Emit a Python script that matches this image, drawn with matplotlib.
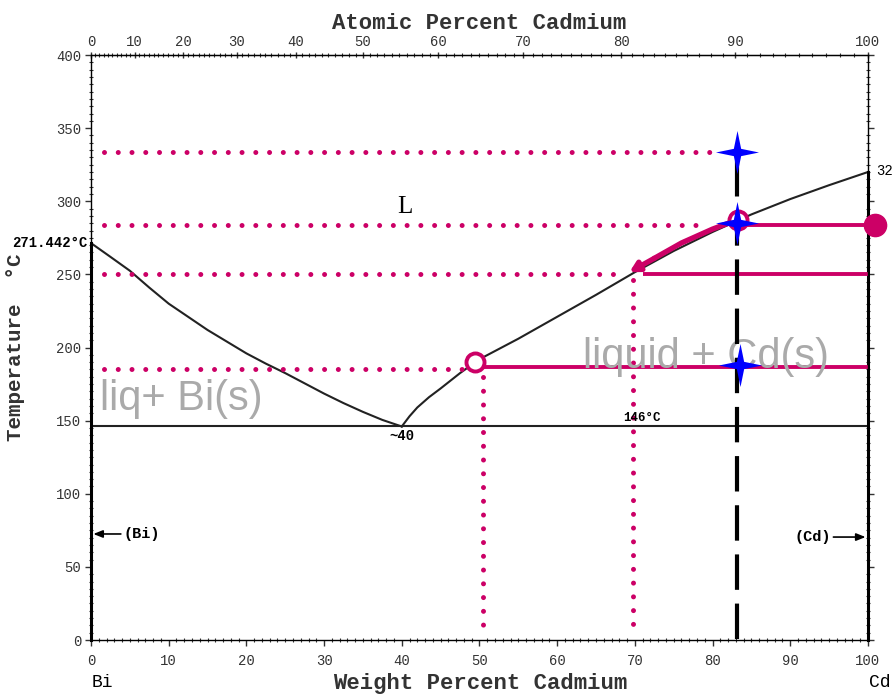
import matplotlib.pyplot as plt
import numpy as np
from matplotlib.path import Path
from matplotlib.ticker import MultipleLocator

# phase boundaries (weight % Cd, temperature C)
wt_left = [0, 2.5, 5, 7.5, 10, 12.5, 15, 17.5, 20, 22.5, 25, 27.5, 30, 32.5, 35, 37.5, 40]
T_left = [271.4, 262, 252.5, 241, 230, 221, 212, 204, 196, 189, 182.5, 175.5, 168.5,
          162, 156, 150.5, 146]
wt_right = [40, 41, 42, 43.5, 45, 47.5, 50, 52.5, 55, 57.5, 60, 65, 70, 75, 80, 85, 90, 95, 100]
T_right = [146, 153, 159, 166, 172, 182.5, 192, 199, 206, 213.5, 221, 236, 251.5, 266,
           279, 291, 301.5, 311, 320]
T_eutectic = 146
T_bi_melt = 271.442
T_cd_melt = 320

# overlay: dotted guide lines
guide_T = [334, 284, 250, 185]
guide_wt_end = [80, 78, 67.2, 47.7]
guide_wt_start = 1.7
vguide_wt = [50.5, 69.7]
vguide_T_top = [180, 246]
vguide_T_bottom = [6, 2]

# overlay: tie lines (T, wt start, wt end)
tie_T = [284, 250.3, 187]
tie_wt_start = [83.3, 71, 50]
tie_wt_end = [100.9, 100, 100]

# overlay: arrow along liquidus
arrow_wt = [83.3, 80, 76, 72.5, 69.3]
arrow_T = [287.5, 281, 271.5, 261, 251.5]

# overlay: composition line and markers
comp_wt = 83.1
comp_T = [1, 335]
star_wt = [83.1, 83.1, 83.5]
star_T = [334, 285, 188]
open_wt = [49.4, 83.3]
open_T = [190.3, 287]
filled_wt = [100.9]
filled_T = [284]

x_ticks = list(range(0, 101, 10))
y_ticks = list(range(0, 401, 50))
at_ticks = list(range(0, 101, 10))

PINK = '#cc0066'
GRAY = '#aaaaaa'
MONO = 'Liberation Mono'
M_BI, M_CD = 208.98, 112.41


def wt_to_at(w):
    w = np.clip(np.asarray(w, dtype=float), 0, 100)
    a = w / M_CD
    b = (100 - w) / M_BI
    return 100 * a / np.where(a + b == 0, 1, a + b)


def at_to_wt(x):
    x = np.clip(np.asarray(x, dtype=float), 0, 100)
    a = x * M_CD
    b = (100 - x) * M_BI
    return 100 * a / np.where(a + b == 0, 1, a + b)


def star4(inner=0.24):
    verts = []
    for k in range(8):
        ang = np.pi / 2 + k * np.pi / 4
        r = 1.0 if k % 2 == 0 else inner
        verts.append((r * np.cos(ang), r * np.sin(ang)))
    verts.append(verts[0])
    codes = [Path.MOVETO] + [Path.LINETO] * 7 + [Path.CLOSEPOLY]
    return Path(verts, codes)


fig = plt.figure(figsize=(8.93, 6.94), dpi=100)
ax = fig.add_axes([0.1019, 0.0778, 0.870, 0.8429])
ax.set_xlim(0, 100)
ax.set_ylim(0, 400)

# phase diagram lines
lw = 1.5
ax.plot(wt_left, T_left, color='#222222', lw=lw)
ax.plot(wt_right, T_right, color='#222222', lw=lw)
ax.plot([0, 100], [T_eutectic, T_eutectic], color='#222222', lw=lw)
ax.plot([0, 0], [0, T_bi_melt], color='black', lw=2.2, clip_on=False)
ax.plot([100, 100], [0, T_cd_melt], color='black', lw=2.2, clip_on=False)

# dotted guides
dot_kw = dict(color=PINK, lw=3.6, linestyle=(0, (0.001, 2.75)), dash_capstyle='round')
for T, we in zip(guide_T, guide_wt_end):
    ax.plot([guide_wt_start, we], [T, T], **dot_kw)
for w, t1, t0 in zip(vguide_wt, vguide_T_top, vguide_T_bottom):
    ax.plot([w, w], [t1, t0], **dot_kw)

# tie lines
for T, ws, we in zip(tie_T, tie_wt_start, tie_wt_end):
    ax.plot([ws, we], [T, T], color=PINK, lw=2.8, solid_capstyle='butt', clip_on=False)

# arrow along liquidus
ax.plot(arrow_wt[:-1], arrow_T[:-1], color=PINK, lw=3.8, solid_capstyle='round')
ax.annotate('', xy=(arrow_wt[-1], arrow_T[-1]), xytext=(arrow_wt[-2], arrow_T[-2]),
            arrowprops=dict(arrowstyle='-|>,head_length=0.55,head_width=0.3',
                            color=PINK, lw=3.8, shrinkA=0, shrinkB=0))

# composition line
ax.plot([comp_wt, comp_wt], comp_T, color='black', lw=3,
        linestyle=(0, (8.5, 3.3)), zorder=4)

ax.plot(open_wt, open_T, 'o', ms=13, mfc='white', mec=PINK, mew=2.8, zorder=5)
ax.plot(filled_wt, filled_T, 'o', ms=16, color=PINK, zorder=5, clip_on=False)
ax.plot(star_wt, star_T, linestyle='none', marker=star4(), ms=31,
        color='#0000ff', mec='none', zorder=6)

# region labels
ax.text(1.2, 157.5, 'liq+ Bi(s)', color=GRAY, fontsize=30,
        family='Liberation Sans', va='baseline')
ax.text(63.3, 186, 'liquid + Cd(s)', color=GRAY, fontsize=30,
        family='Liberation Sans', va='baseline')
ax.text(40.4, 296, 'L', fontsize=18, family='Liberation Serif',
        ha='center', va='center')

# diagram annotations
ax.text(-0.4, 271.5, '271.442°C', fontsize=10, family=MONO, weight='bold',
        ha='right', va='center')
ax.text(101, 321, '321°C', fontsize=10, family=MONO, ha='left', va='center')
ax.text(40, 139.5, '~40', fontsize=10, family=MONO, weight='bold',
        ha='center', va='center')
ax.text(70.9, 151.5, '146°C', fontsize=9, family=MONO, weight='bold',
        ha='center', va='center')
ax.annotate('(Bi)', xy=(0.3, 72.5), xytext=(4.2, 72.5), fontsize=11,
            family=MONO, weight='bold', va='center', ha='left',
            arrowprops=dict(arrowstyle='-|>,head_length=0.5,head_width=0.2',
                            color='black', lw=1.2, shrinkA=0, shrinkB=0))
ax.annotate('(Cd)', xy=(99.7, 70.4), xytext=(95.2, 70.4), fontsize=11,
            family=MONO, weight='bold', va='center', ha='right',
            arrowprops=dict(arrowstyle='-|>,head_length=0.5,head_width=0.2',
                            color='black', lw=1.2, shrinkA=0, shrinkB=0))
ax.text(1.5, -29, 'Bi', fontsize=13, family=MONO, ha='center', va='center',
        clip_on=False)
ax.text(101.5, -29, 'Cd', fontsize=13, family=MONO, ha='center', va='center',
        clip_on=False)

# axes styling
for s in ax.spines.values():
    s.set_linewidth(1.0)
    s.set_linestyle((0, (2, 1)))
ax.set_xticks(x_ticks)
ax.set_yticks(y_ticks)
ax.xaxis.set_minor_locator(MultipleLocator(1))
ax.yaxis.set_minor_locator(MultipleLocator(5))
ax.tick_params(which='major', direction='out', length=4, width=1, colors='#333333',
               labelsize=10, pad=6)
ax.tick_params(which='minor', direction='inout', length=3, width=0.8, color='#333333')
ax.tick_params(axis='y', which='both', right=True)
ax.tick_params(axis='y', which='major', pad=3)
for lab in ax.get_xticklabels() + ax.get_yticklabels():
    lab.set_family(MONO)

ax.set_xlabel('Weight Percent Cadmium', fontsize=16, family=MONO, weight='bold',
              color='#333333')
ax.xaxis.set_label_coords(0.501, -0.056)
ax.set_ylabel('Temperature  °C', fontsize=15, family=MONO, weight='bold',
              color='#333333')
ax.yaxis.set_label_coords(-0.085, 0.5)

secax = ax.secondary_xaxis('top', functions=(wt_to_at, at_to_wt))
secax.set_xticks(at_ticks)
secax.xaxis.set_minor_locator(MultipleLocator(1))
secax.tick_params(which='major', direction='inout', length=5, width=1,
                  colors='#333333', labelsize=10, pad=2)
secax.tick_params(which='minor', direction='inout', length=3, width=0.8,
                  color='#333333')
for lab in secax.get_xticklabels():
    lab.set_family(MONO)
secax.spines['top'].set_linestyle((0, (2, 1)))
secax.set_xlabel('Atomic Percent Cadmium', fontsize=16, family=MONO,
                 weight='bold', color='#333333', labelpad=4)

fig.savefig('out.png', dpi=100)
